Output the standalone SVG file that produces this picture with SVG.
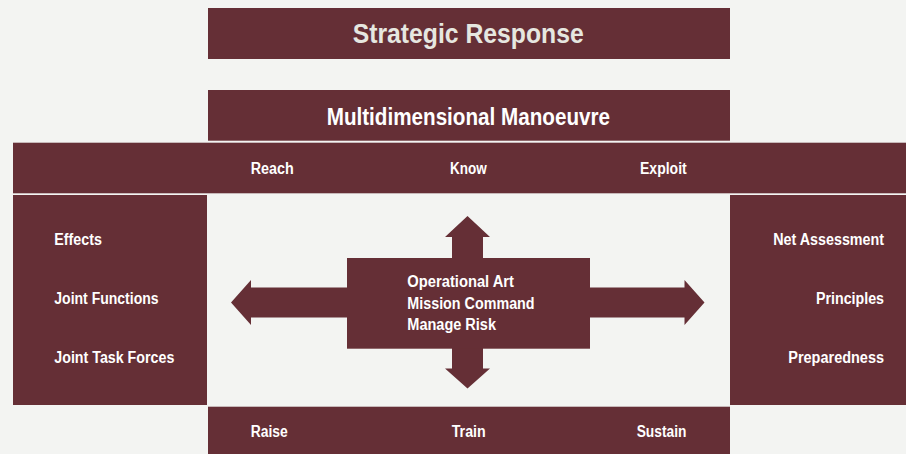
<svg xmlns="http://www.w3.org/2000/svg" width="906" height="454" viewBox="0 0 906 454">
<style>
.box{fill:#652f36}
.arr{fill:#652f36}
text{font-family:"Liberation Sans",Arial,sans-serif;font-weight:bold;fill:#ffffff}
.s{font-size:16px}
.title{font-size:28px;fill:#e6e7e0}
.sub{font-size:23px}
</style>
<rect width="906" height="454" fill="#f3f4f2"/>
<g id="connectors">
<polygon class="arr" points="231,302.5 251,280 251,287.5 350,287.5 350,317.5 251,317.5 251,325"/>
<polygon class="arr" points="704.5,302.5 684.5,280 684.5,287.5 587,287.5 587,317.5 684.5,317.5 684.5,325"/>
<polygon class="arr" points="467.5,216 445,237 452,237 452,261 483,261 483,237 490,237"/>
<polygon class="arr" points="467.5,388.5 445,368.5 452,368.5 452,345 483,345 483,368.5 490,368.5"/>
</g>
<g id="strategic-response">
<rect class="box" x="208" y="8" width="522" height="51"/>
<text class="title" x="352.7" y="42.7" textLength="231" lengthAdjust="spacingAndGlyphs">Strategic Response</text>
</g>
<g id="multidimensional-manoeuvre">
<rect class="box" x="208" y="90" width="522" height="50.7"/>
<text class="sub" x="326.7" y="125" textLength="283.3" lengthAdjust="spacingAndGlyphs">Multidimensional Manoeuvre</text>
</g>
<g id="reach-know-exploit">
<rect class="box" x="13" y="142.7" width="893" height="50.6"/>
<text class="s" x="250.7" y="173.7" textLength="43" lengthAdjust="spacingAndGlyphs">Reach</text>
<text class="s" x="450" y="173.7" textLength="36.7" lengthAdjust="spacingAndGlyphs">Know</text>
<text class="s" x="640" y="173.7" textLength="46.7" lengthAdjust="spacingAndGlyphs">Exploit</text>
</g>
<g id="left-panel">
<rect class="box" x="13" y="195" width="194" height="210"/>
<text class="s" x="54.3" y="245" textLength="47.7" lengthAdjust="spacingAndGlyphs">Effects</text>
<text class="s" x="54.3" y="304.3" textLength="104.3" lengthAdjust="spacingAndGlyphs">Joint Functions</text>
<text class="s" x="54.3" y="362.7" textLength="120" lengthAdjust="spacingAndGlyphs">Joint Task Forces</text>
</g>
<g id="right-panel">
<rect class="box" x="730" y="195" width="176" height="210"/>
<text class="s" x="773.3" y="245" textLength="110.7" lengthAdjust="spacingAndGlyphs">Net Assessment</text>
<text class="s" x="816" y="304.3" textLength="68" lengthAdjust="spacingAndGlyphs">Principles</text>
<text class="s" x="788.3" y="362.7" textLength="95.7" lengthAdjust="spacingAndGlyphs">Preparedness</text>
</g>
<g id="centre">
<rect class="box" x="347" y="258" width="243" height="90.7"/>
<text class="s" x="407.3" y="287.3" textLength="106.7" lengthAdjust="spacingAndGlyphs">Operational Art</text>
<text class="s" x="407.3" y="309" textLength="127.3" lengthAdjust="spacingAndGlyphs">Mission Command</text>
<text class="s" x="407.3" y="330" textLength="88.7" lengthAdjust="spacingAndGlyphs">Manage Risk</text>
</g>
<g id="raise-train-sustain">
<rect class="box" x="208" y="406.7" width="522" height="47.3"/>
<text class="s" x="250.7" y="436.7" textLength="37" lengthAdjust="spacingAndGlyphs">Raise</text>
<text class="s" x="451.7" y="436.7" textLength="34" lengthAdjust="spacingAndGlyphs">Train</text>
<text class="s" x="636.7" y="436.7" textLength="49.7" lengthAdjust="spacingAndGlyphs">Sustain</text>
</g>
</svg>
